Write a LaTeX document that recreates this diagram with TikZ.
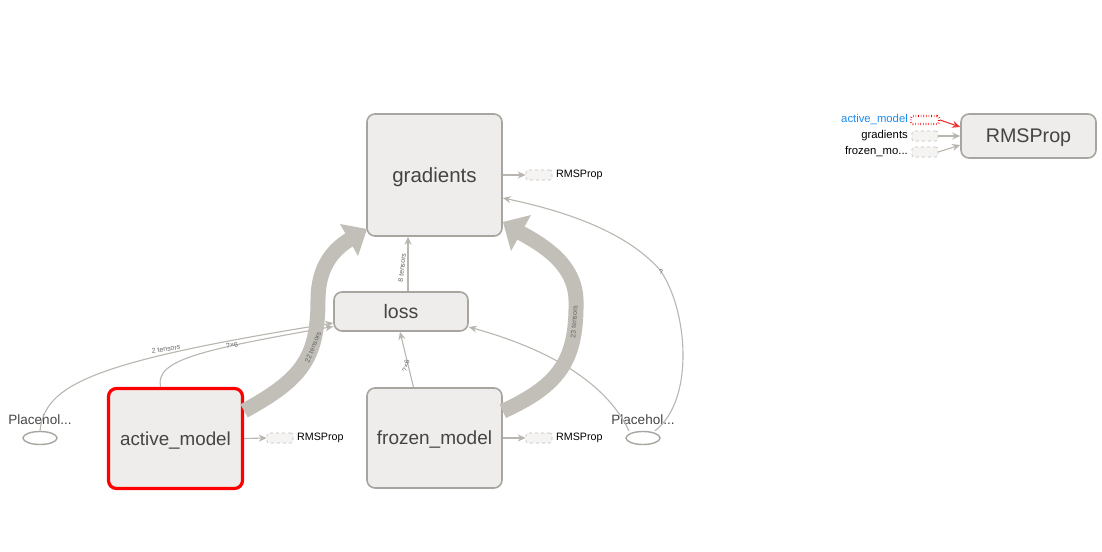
\documentclass[tikz,border=0pt]{standalone}
\usepackage{fontspec}
\setmainfont{Liberation Sans}
\usetikzlibrary{arrows.meta,shapes.geometric,calc}
\definecolor{nfill}{HTML}{EEEDEB}
\definecolor{nborder}{HTML}{A8A5A0}
\definecolor{edgec}{HTML}{B9B6B0}
\definecolor{thickc}{HTML}{C2BFB8}
\definecolor{txt}{HTML}{444444}
\definecolor{lbl}{HTML}{666666}
\definecolor{bluet}{HTML}{1A8CF0}
\tikzset{
  opbox/.style={draw=nborder, fill=nfill, line width=1.6pt, rounded corners=8pt, text=txt, inner sep=0pt, text depth=0pt},
  stub/.style={draw=nborder!70, fill=nfill!60, dashed, line width=0.6pt, rounded corners=2pt, minimum width=26pt, minimum height=10pt, inner sep=0pt},
  stublbl/.style={text=black, font=\fontsize{10.7}{12}\selectfont, inner sep=1pt},
  rlbl/.style={text=black, font=\fontsize{11.3}{13}\selectfont, inner sep=1pt},
  ph/.style={ellipse, draw=nborder, line width=1.4pt, minimum width=34pt, minimum height=13pt, inner sep=0pt},
  phlbl/.style={text=txt, font=\fontsize{13.5}{16}\selectfont, inner sep=0pt},
  thin/.style={draw=edgec, line width=1.1pt, -{Stealth[length=8pt,width=7pt]}},
  thick/.style={draw=thickc, line width=15pt},
  elbl/.style={text=lbl, font=\fontsize{7}{8}\selectfont, inner sep=0.5pt}
}
\begin{document}
\begin{tikzpicture}[x=1pt,y=-1pt]
\useasboundingbox (0,0) rectangle (1102,551);
% main nodes
\node[opbox, minimum width=135pt, minimum height=122pt, font=\fontsize{20.5}{24}\selectfont] (grad) at (434.5,175) {gradients};
\node[opbox, minimum width=134pt, minimum height=39pt, font=\fontsize{19.5}{22}\selectfont] (loss) at (401,311.5) {loss};
\node[opbox, draw=red, line width=3.2pt, minimum width=134pt, minimum height=100pt, font=\fontsize{18.8}{22}\selectfont] (am) at (175.5,438.5) {active\_model};
\node[opbox, minimum width=135pt, minimum height=100pt, font=\fontsize{19}{22}\selectfont] (fm) at (434.5,438) {frozen\_model};
\node[opbox, minimum width=135pt, minimum height=44pt, font=\fontsize{19.7}{23}\selectfont] (rms) at (1028.5,136) {RMSProp};
% placeholders
\node[ph] (phl) at (40,438) {};
\node[phlbl] (phlt) at (40,420) {Placehol...};
\node[ph] (phr) at (643,438) {};
\node[phlbl] (phrt) at (643,420) {Placehol...};
% stubs
\node[stub] (s1) at (539,175) {};
\node[stublbl, anchor=west] (s1t) at (555,175) {RMSProp};
\node[stub] (s2) at (280,438) {};
\node[stublbl, anchor=west] (s2t) at (296,438) {RMSProp};
\node[stub] (s3) at (539,438) {};
\node[stublbl, anchor=west] (s3t) at (555,438) {RMSProp};
% right side inputs
\node[stub, draw=red, fill=white, dotted, line width=2.2pt, minimum width=28pt, minimum height=8pt] (r1) at (925,120) {};
\node[rlbl, anchor=east, text=bluet] (r1t) at (909,120) {active\_model};
\node[stub] (r2) at (925,136) {};
\node[rlbl, anchor=east] (r2t) at (909,136) {gradients};
\node[stub] (r3) at (925,152) {};
\node[rlbl, anchor=east] (r3t) at (909,152) {frozen\_mo...};
\draw[thin, draw=red!70!edgec] (r1.east) -- ([yshift=9pt]rms.west);
\draw[thin] (r2.east) -- (rms.west);
\draw[thin] (r3.east) -- ([yshift=-9pt]rms.west);
% thin edges
\draw[thin] ([xshift=7pt]loss.north) -- ([xshift=-26.5pt]grad.south);
\node[elbl, rotate=84] (l8) at (402,268) {8 tensors};
\draw[thin] ([xshift=-21pt]fm.north) -- ([xshift=-1pt]loss.south);
\node[elbl, rotate=76] (lf) at (406,366) {?×6};
\draw[thin] (phl.north) .. controls (45,385) and (90,362) .. ([yshift=-11.5pt]loss.west);
\node[elbl, rotate=9] (l2t) at (166,349) {2 tensors};
\draw[thin] ([xshift=-15pt]am.north) .. controls (155,360) and (200,350) .. ([yshift=-15pt]loss.west);
\node[elbl, rotate=8] (la) at (232,345) {?×6};
\draw[thin] ([xshift=-14pt]phr.north) .. controls (612,395) and (570,355) .. ([yshift=-15.5pt]loss.east);
\draw[thin] ([xshift=12pt]phr.north) .. controls (695,400) and (688,310) .. (660,270) .. controls (625,230) and (560,210) .. ([yshift=-23pt]grad.east);
\node[elbl] (lq) at (661,272) {?};
\draw[thin] (grad.east |- s1) -- (s1.west);
\draw[thin] (am.east) -- (s2.west);
\draw[thin] (fm.east) -- (s3.west);
% thick edges
\coordinate (t1) at (356,236);
\draw[thick] ([yshift=-24pt]am.north east) .. controls (300,380) and (318,360) .. (318,300) .. controls (318,268) and (332,248) .. (t1);
\fill[thickc] (367,229) -- ($(t1)+(-16,-12)$) -- ($(t1)+(2,20)$) -- cycle;
\node[elbl, rotate=68] (l22) at (313,347) {22 tensors};
\coordinate (t2) at (513,229);
\draw[thick] ([yshift=-24pt]fm.north east) .. controls (560,385) and (577,360) .. (576,300) .. controls (575,265) and (545,245) .. (t2);
\fill[thickc] (503,222) -- ($(t2)+(-2,22)$) -- ($(t2)+(18,-14)$) -- cycle;
\node[elbl, rotate=86] (l23) at (574,322) {23 tensors};
\end{tikzpicture}
\end{document}
